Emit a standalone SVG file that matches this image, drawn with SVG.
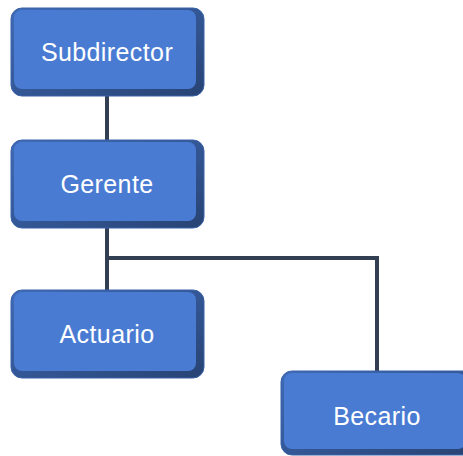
<svg xmlns="http://www.w3.org/2000/svg" width="463" height="456" viewBox="0 0 463 456">
<defs>
<linearGradient id="edge" x1="0" y1="0" x2="1" y2="1">
<stop offset="0" stop-color="#3F6BB8"/>
<stop offset="1" stop-color="#284373"/>
</linearGradient>
</defs>
<style>
.conn{fill:none;stroke:#323E52;stroke-width:4}
.outer{fill:url(#edge);stroke:#3A62A8;stroke-width:1}
.face{fill:#4A7BD3}
.lbl{font-family:"Liberation Sans",Arial,sans-serif;font-size:25px;letter-spacing:0.4px;fill:#FFFFFF;text-anchor:middle}
</style>
<rect width="463" height="456" fill="#FFFFFF"/>
<g id="connectors">
<line class="conn" x1="107" y1="96" x2="107" y2="140"/>
<line class="conn" x1="107" y1="228" x2="107" y2="290"/>
<polyline class="conn" points="107,258 377,258 377,372"/>
</g>
<g id="subdirector">
<rect class="outer" x="11" y="8" width="193" height="88" rx="11"/>
<rect class="face" x="14" y="10" width="182" height="79" rx="8"/>
<text class="lbl" x="107" y="61">Subdirector</text>
</g>
<g id="gerente">
<rect class="outer" x="11" y="140" width="193" height="88" rx="11"/>
<rect class="face" x="14" y="142" width="182" height="79" rx="8"/>
<text class="lbl" x="107" y="193">Gerente</text>
</g>
<g id="actuario">
<rect class="outer" x="11" y="290" width="193" height="88" rx="11"/>
<rect class="face" x="14" y="292" width="182" height="79" rx="8"/>
<text class="lbl" x="107" y="343">Actuario</text>
</g>
<g id="becario">
<rect class="outer" x="281" y="371" width="193" height="84" rx="11"/>
<rect class="face" x="284" y="373" width="182" height="76" rx="8"/>
<text class="lbl" x="377" y="425">Becario</text>
</g>
</svg>
